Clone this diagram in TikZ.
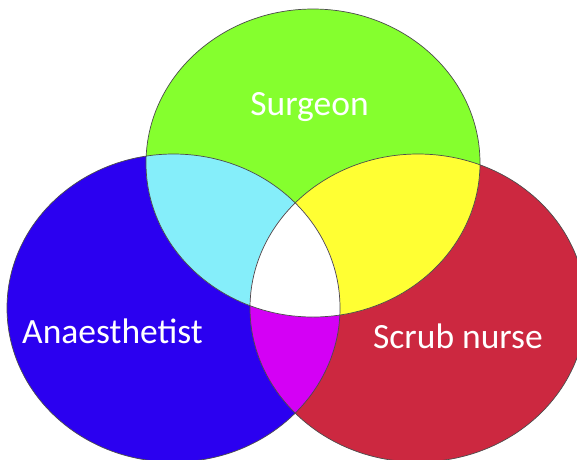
\documentclass[tikz,border=0pt]{standalone}
\usepackage{fontspec}
\setmainfont{Carlito}
\usepackage{xcolor}

\definecolor{surgeongreen}{RGB}{133,255,46}
\definecolor{anaesblue}{RGB}{43,0,240}
\definecolor{nursered}{RGB}{204,40,64}
\definecolor{cyanmix}{RGB}{133,238,250}
\definecolor{yellowmix}{RGB}{255,255,51}
\definecolor{magentamix}{RGB}{212,0,245}

\newcommand{\surgeonset}{(313,163) ellipse [x radius=167, y radius=154]}
\newcommand{\anaesset}{(173.5,308) ellipse [x radius=166.5, y radius=154]}
\newcommand{\nurseset}{(418,308) ellipse [x radius=168, y radius=154]}

\begin{document}
\begin{tikzpicture}[x=1pt, y=-1pt,
        rolelabel/.style={text=white, font=\fontsize{35.5}{42}\selectfont, inner sep=0pt, anchor=base},
        outline/.style={draw=black!70, line width=0.7pt}]
    \useasboundingbox (0,0) rectangle (577,459);
    \clip (0,0) rectangle (577,459);
    % one set each
    \fill[anaesblue] \anaesset;
    \fill[nursered] \nurseset;
    \fill[surgeongreen] \surgeonset;
    % two sets
    \begin{scope}
        \clip \surgeonset;
        \fill[cyanmix] \anaesset;
    \end{scope}
    \begin{scope}
        \clip \surgeonset;
        \fill[yellowmix] \nurseset;
    \end{scope}
    \begin{scope}
        \clip \anaesset;
        \fill[magentamix] \nurseset;
    \end{scope}
    % all three
    \begin{scope}
        \clip \surgeonset;
        \clip \anaesset;
        \fill[white] \nurseset;
    \end{scope}
    % outlines
    \draw[outline] \anaesset;
    \draw[outline] \nurseset;
    \draw[outline] \surgeonset;
    \node[rolelabel] (surgeon) at (309.5,115) {Surgeon};
    \node[rolelabel] (anaesthetist) at (112.5,343) {Anaesthetist};
    \node[rolelabel] (scrubnurse) at (458,348) {Scrub nurse};
\end{tikzpicture}
\end{document}
